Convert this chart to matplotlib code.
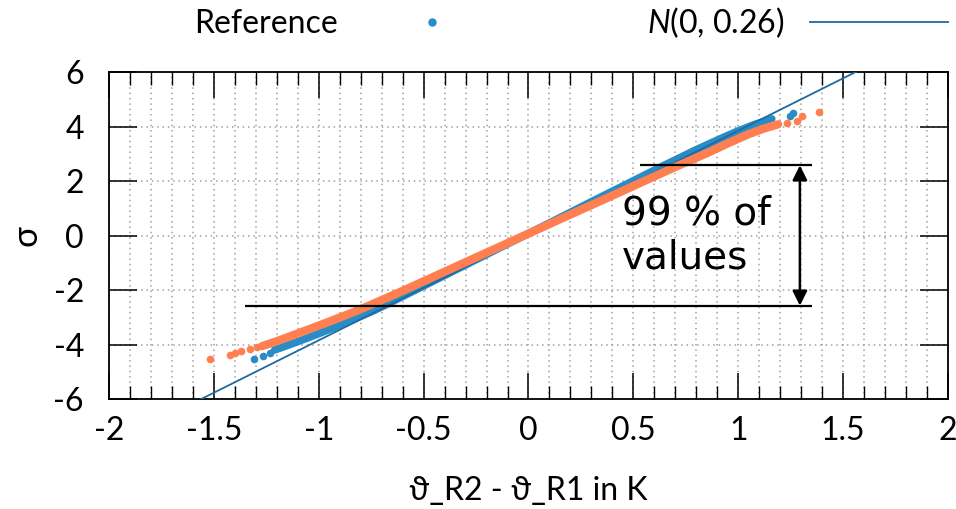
import matplotlib
matplotlib.use('Agg')
import matplotlib.pyplot as plt
import numpy as np
from matplotlib.ticker import MultipleLocator, FuncFormatter

plt.rcParams['font.family'] = ['Lato', 'DejaVu Sans']
plt.rcParams['mathtext.fontset'] = 'custom'
plt.rcParams['mathtext.it'] = 'Lato:italic'
plt.rcParams['mathtext.rm'] = 'Lato'

# Datos (x = diferencia en K, y = cuantil sigma)
ref_x = [-1.21, -1.13, -1.05, -0.95, -0.85, -0.75, -0.684, -0.5, -0.3, -0.1, 0.1, 0.3, 0.5, 0.64, 0.8, 0.9, 1.0, 1.08, 1.16]
ref_y = [-4.20, -3.98, -3.75, -3.45, -3.13, -2.80, -2.56, -1.85, -1.08, -0.31, 0.46, 1.24, 2.01, 2.55, 3.15, 3.50, 3.84, 4.08, 4.28]
ref_tail_x = [-1.307, -1.264, -1.232, 1.247, 1.262]
ref_tail_y = [-4.54, -4.42, -4.30, 4.38, 4.51]

meas_x = [-1.27, -1.2, -1.137, -1.05, -0.95, -0.85, -0.756, -0.6, -0.44, -0.28, -0.12, 0.04, 0.2, 0.37, 0.55, 0.707, 0.85, 0.95, 1.05, 1.12, 1.19]
meas_y = [-4.06, -3.88, -3.70, -3.45, -3.16, -2.86, -2.56, -2.03, -1.47, -0.91, -0.35, 0.21, 0.77, 1.36, 1.99, 2.54, 3.02, 3.38, 3.72, 3.92, 4.08]
meas_tail_x = [-1.518, -1.423, -1.40, -1.372, -1.328, -1.296, 1.234, 1.279, 1.302, 1.387]
meas_tail_y = [-4.54, -4.39, -4.30, -4.24, -4.18, -4.10, 4.12, 4.21, 4.38, 4.52]

sigma_n = 0.26
q99 = 2.576
band_low_x = [-1.352, 1.351]
band_up_x = [0.532, 1.351]
arrow_x = 1.294

c_ref = '#2a8cc6'
c_meas = '#ff7f50'
c_line = '#1f6aa0'

fig = plt.figure(figsize=(9.56, 5.09), dpi=100)
ax = fig.add_axes([0.114, 0.2161, 0.8776, 0.6424])

ax.plot(ref_x, ref_y, '-', color=c_ref, lw=5.5, solid_capstyle='round', zorder=3)
ax.plot(ref_tail_x, ref_tail_y, 'o', color=c_ref, ms=5.5, mew=0, zorder=3, label='Reference')

xl = np.array([-2.0, 2.0])
ax.plot(xl, xl / sigma_n, color=c_line, lw=1.3, zorder=4, label='$\\mathit{N}$(0, 0.26)')

ax.plot(meas_x, meas_y, '-', color=c_meas, lw=6, solid_capstyle='round', zorder=5)
ax.plot(meas_tail_x, meas_tail_y, 'o', color=c_meas, ms=5.5, mew=0, zorder=5)

# Lineas del 99 %
ax.hlines(q99, band_up_x[0], band_up_x[1], color='black', lw=1.6, zorder=6)
ax.hlines(-q99, band_low_x[0], band_low_x[1], color='black', lw=1.6, zorder=6)
ax.annotate('', xy=(arrow_x, q99), xytext=(arrow_x, -q99),
            arrowprops=dict(arrowstyle='<|-|>', color='black', lw=1.8, mutation_scale=22,
                            shrinkA=0, shrinkB=0), zorder=6)
ax.text(0.447, 0.0, '99 % of\nvalues', fontsize=28, family='DejaVu Sans',
        ha='left', va='center', zorder=7)

ax.set_xlim(-2, 2)
ax.set_ylim(-6, 6)
ax.xaxis.set_major_locator(MultipleLocator(0.5))
ax.xaxis.set_minor_locator(MultipleLocator(0.1))
ax.yaxis.set_major_locator(MultipleLocator(2))
ax.xaxis.set_major_formatter(FuncFormatter(lambda v, p: f'{v:g}'))
ax.yaxis.set_major_formatter(FuncFormatter(lambda v, p: f'{v:g}'))

ax.tick_params(which='major', axis='x', direction='in', length=19, width=1.1, top=True,
               labelsize=23, pad=12)
ax.tick_params(which='minor', axis='x', direction='in', length=9.5, width=1.0, top=True)
ax.tick_params(which='major', axis='y', direction='in', length=20, width=1.1, right=True,
               labelsize=23, pad=18)

ax.grid(which='major', axis='y', color='#a0a0a0', ls=(0, (1, 2.5)), lw=1.1)
ax.grid(which='both', axis='x', color='#a0a0a0', ls=(0, (1, 2.5)), lw=1.1)
ax.set_axisbelow(True)
for s in ax.spines.values():
    s.set_linewidth(1.3)

ax.set_xlabel('\u03d1_R2 - \u03d1_R1 in K', fontsize=23, labelpad=22)
ax.set_ylabel('\u03c3', fontsize=25, labelpad=8)

ax.legend(loc='center', bbox_to_anchor=(0.597, 0.956), bbox_transform=fig.transFigure,
          ncol=2, frameon=False, markerfirst=False, fontsize=23, handlelength=4.3,
          handletextpad=0.8, columnspacing=4.6, markerscale=1.1, borderaxespad=0)

fig.savefig('out.png', dpi=100)
